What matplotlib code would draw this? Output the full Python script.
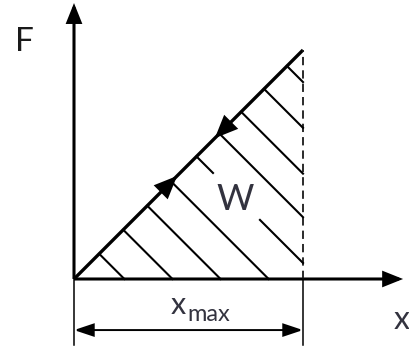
import numpy as np
import matplotlib.pyplot as plt
from matplotlib.patches import FancyArrowPatch

# Kraft-Weg-Diagramm: lineare Feder, Arbeit W als Dreiecksflaeche
x_max = 1.0
F_max = 1.0
x_load = [0.0, x_max]
F_load = [0.0, F_max]

# Schraffur: Geraden x + F = d
hatch_d = [0.22, 0.43, 0.64, 0.85, 1.07, 1.27, 1.46, 1.66, 1.86]
# Luecke in der Schraffur um das "W" (Linie d = 1.07)
w_gap = (1.07, 0.607, 0.812)

# Pfeile auf der Kennlinie (Belastung hoch, Entlastung runter)
arrow_up = 0.45
arrow_down = 0.615

fig = plt.figure(figsize=(4.09, 3.52), dpi=100)
ax = fig.add_axes([0, 0, 1, 1])
ax.set_xlim(-74 / 229, 335 / 229)
ax.set_ylim(-73 / 229, 279 / 229)
ax.axis('off')

k = 'black'


def arrow(p0, p1, lw, style='-|>,head_length=0.55,head_width=0.22', ms=20, **kw):
    a = FancyArrowPatch(p0, p1, arrowstyle=style, mutation_scale=ms, lw=lw,
                        color=k, shrinkA=0, shrinkB=0, joinstyle='miter',
                        capstyle='butt', **kw)
    ax.add_patch(a)


# Achsen
arrow((0, 0), (0, 1.205), 2.2)
arrow((0, 0), (1.437, 0), 2.2)

# Kennlinie
ax.plot(x_load, F_load, color=k, lw=2.4, solid_capstyle='butt')

# gestrichelte Begrenzung bei x_max
ax.plot([x_max, x_max], [0, F_max], color='#1a1a1a', lw=1.3,
        linestyle=(0, (4.6, 2.8)))

# Schraffur
for d in hatch_d:
    x0 = d / 2
    if d <= x_max:
        x1, y1 = d, 0.0
    else:
        x1, y1 = x_max, d - x_max
    if abs(d - w_gap[0]) < 1e-9:
        xa, xb = w_gap[1], w_gap[2]
        ax.plot([x0, xa], [d - x0, d - xa], color=k, lw=1.5)
        ax.plot([xb, x1], [d - xb, y1], color=k, lw=1.5)
    else:
        ax.plot([x0, x1], [d - x0, y1], color=k, lw=1.5)

# Pfeilspitzen auf der Kennlinie
s = 0.06
arrow((arrow_up - s, arrow_up - s), (arrow_up, arrow_up), 1.5,
      style='-|>,head_length=0.7,head_width=0.3', ms=20)
arrow((arrow_down + s, arrow_down + s), (arrow_down, arrow_down), 1.5,
      style='-|>,head_length=0.7,head_width=0.3', ms=20)

# Masslinie x_max
ax.plot([0, 0], [0, -0.288], color=k, lw=1.1)
ax.plot([x_max, x_max], [0, -0.288], color=k, lw=1.1)
arrow((0, -0.223), (x_max, -0.223), 1.4,
      style='<|-|>,head_length=0.6,head_width=0.2', ms=20)

# Beschriftungen
font = 'Lato'
txt = '#33333f'
ax.text(-0.218, 1.035, 'F', fontsize=24, family=font, color='#1a1a1a',
        ha='center', va='center')
ax.text(0.703, 0.345, 'W', fontsize=26, family=font, color=txt,
        ha='center', va='center')
ax.text(0.455, -0.115, 'x', fontsize=22, family=font, color=txt,
        ha='center', va='center')
ax.text(0.493, -0.157, 'max', fontsize=17, family=font, color=txt,
        ha='left', va='center')
ax.text(1.43, -0.18, 'x', fontsize=23, family=font, color=txt,
        ha='center', va='center')

fig.savefig('out.png', dpi=100)
